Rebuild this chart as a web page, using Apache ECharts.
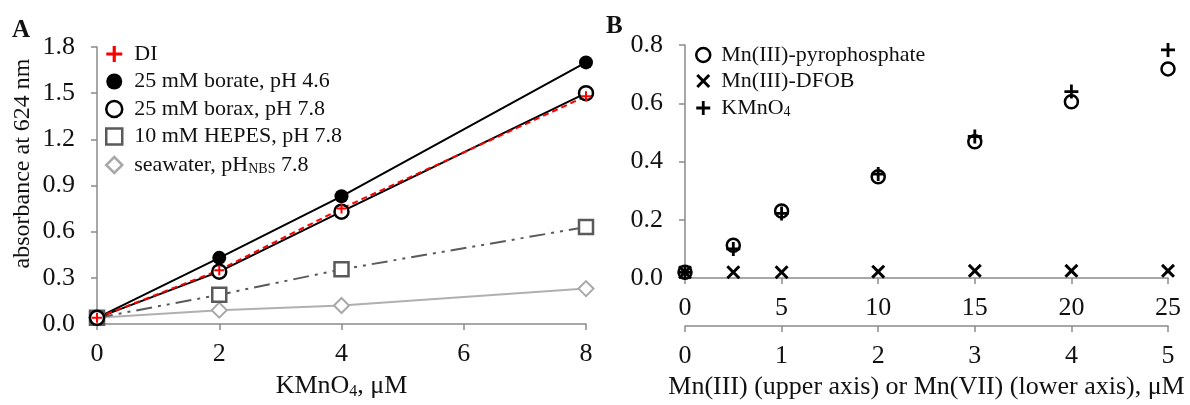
<!DOCTYPE html>
<html>
<head>
<meta charset="utf-8">
<script src="https://cdn.jsdelivr.net/npm/echarts@6/dist/echarts.min.js"></script>
<style>
  html, body { margin: 0; padding: 0; background: #fff; }
  #chart { width: 1190px; height: 405px; }
</style>
</head>
<body>
<div id="chart"></div>
<script>
// panel A: absorbance vs KMnO4
var concA = [0, 2, 4, 8]
var diVals = [0.04, 0.35, 0.75, 1.48]
var borateVals = [0.04, 0.43, 0.83, 1.70]
var boraxVals = [0.04, 0.34, 0.73, 1.50]
var hepesVals = [0.04, 0.19, 0.355, 0.63]
var seawaterVals = [0.04, 0.09, 0.12, 0.23]

// panel B
var mn3Conc = [0, 2.5, 5, 10, 15, 20, 25]
var pyroVals = [0.02, 0.113, 0.23, 0.348, 0.468, 0.605, 0.718]
var dfobVals = [0.02, 0.02, 0.02, 0.022, 0.025, 0.025, 0.025]
var mn7Conc = [0, 0.5, 1, 2, 3, 4, 5]
var kmno4Vals = [0.02, 0.10, 0.222, 0.357, 0.486, 0.64, 0.783]

var ticksA_y = ['0.0', '0.3', '0.6', '0.9', '1.2', '1.5', '1.8']
var ticksB_y = ['0.0', '0.2', '0.4', '0.6', '0.8']

function pairs(xs, ys) {
  return xs.map(function(x, i) { return [x, ys[i]] })
}

var plusPath = 'path://M4,0h2v4h4v2h-4v4h-2v-4h-4v-2h4z'
var crossPath = 'path://M0,1.5L1.5,0L5,3.5L8.5,0L10,1.5L6.5,5L10,8.5L8.5,10L5,6.5L1.5,10L0,8.5L3.5,5Z'
var font = 'Liberation Serif'
var axisGray = '#8a8a8a'

var axisCommon = {
  axisLine: { show: true, lineStyle: { color: axisGray, width: 1.5 } },
  axisTick: { show: true, length: 6, lineStyle: { color: axisGray, width: 1.5 } },
  splitLine: { show: false },
  axisLabel: { color: '#111', fontFamily: font, fontSize: 26 }
}

// legend text styles (rich so the subscripts work)
function legendRich(pad) {
  return {
    n: { fontSize: 22, fontFamily: font, color: '#111', lineHeight: 22, padding: [0, 0, 0, pad] },
    m: { fontSize: 22, fontFamily: font, color: '#111', lineHeight: 22 },
    sub: { fontSize: 14, fontFamily: font, color: '#111', lineHeight: 22, verticalAlign: 'bottom', padding: [9, 0, 0, 0] }
  }
}

var chart = echarts.init(document.getElementById('chart'))
var option = {
  animation: false,
  textStyle: { fontFamily: font },
  graphic: [
    { type: 'text', left: 12, top: 18, style: { text: 'A', font: 'bold 25px ' + font, fill: '#111' } },
    { type: 'text', left: 606, top: 14, style: { text: 'B', font: 'bold 25px ' + font, fill: '#111' } }
  ],
  grid: [
    { left: 97, right: 604, top: 47, bottom: 76, containLabel: false },
    { left: 685, right: 22, top: 45, bottom: 122, containLabel: false }
  ],
  legend: [
    {
      left: 100, top: 38, orient: 'vertical', itemGap: 5.5, itemWidth: 16, itemHeight: 16,
      textStyle: { fontFamily: font, fontSize: 22, color: '#111', rich: legendRich(7) },
      formatter: function(name) {
        if (name.indexOf('seawater') === 0) return '{n|seawater, pH}{sub|NBS}{m| 7.8}'
        return '{n|' + name + '}'
      },
      data: [
        { name: 'DI', icon: plusPath, itemStyle: { color: '#ff0000', borderWidth: 0 } },
        { name: '25 mM borate, pH 4.6', icon: 'circle', itemStyle: { color: '#000', borderWidth: 0 } },
        { name: '25 mM borax, pH 7.8', icon: 'circle', itemStyle: { color: '#fff', borderColor: '#000', borderWidth: 2.5 } },
        { name: '10 mM HEPES, pH 7.8', icon: 'rect', itemStyle: { color: '#fff', borderColor: '#5a5a5a', borderWidth: 2.5 } },
        { name: 'seawater, pH 7.8', icon: 'diamond', itemStyle: { color: '#fff', borderColor: '#a8a8a8', borderWidth: 2.5 } }
      ]
    },
    {
      left: 690, top: 39, orient: 'vertical', itemGap: 4, itemWidth: 14, itemHeight: 14,
      textStyle: { fontFamily: font, fontSize: 22, color: '#111', rich: legendRich(6) },
      formatter: function(name) {
        if (name === 'KMnO4') return '{n|KMnO}{sub|4}'
        return '{n|' + name + '}'
      },
      data: [
        { name: 'Mn(III)-pyrophosphate', icon: 'circle', itemStyle: { color: '#fff', borderColor: '#000', borderWidth: 2.5, opacity: 1 } },
        { name: 'Mn(III)-DFOB', icon: crossPath, itemStyle: { color: '#000', borderWidth: 0, opacity: 1 } },
        { name: 'KMnO4', icon: plusPath, itemStyle: { color: '#000', borderWidth: 0, opacity: 1 } }
      ]
    }
  ],
  xAxis: [
    Object.assign({}, axisCommon, {
      gridIndex: 0, type: 'value', min: 0, max: 8, interval: 2,
      axisLabel: Object.assign({}, axisCommon.axisLabel, { margin: 17 }),
      name: 'KMnO{sub|4}, μM', nameLocation: 'middle', nameGap: 48,
      nameTextStyle: { fontFamily: font, fontSize: 26, color: '#111',
        rich: { sub: { fontSize: 16, verticalAlign: 'bottom', padding: [12, 0, 0, 0], fontFamily: font, color: '#111' } } }
    }),
    Object.assign({}, axisCommon, {
      gridIndex: 1, type: 'value', min: 0, max: 25, interval: 5, position: 'bottom',
      axisLabel: Object.assign({}, axisCommon.axisLabel, { margin: 17 })
    }),
    Object.assign({}, axisCommon, {
      gridIndex: 1, type: 'value', min: 0, max: 5, interval: 1, position: 'bottom', offset: 48,
      axisLabel: Object.assign({}, axisCommon.axisLabel, { margin: 17 }),
      name: 'Mn(III) (upper axis) or Mn(VII) (lower axis), μM', nameLocation: 'middle', nameGap: 46,
      nameTextStyle: { fontFamily: font, fontSize: 26, color: '#111' }
    })
  ],
  yAxis: [
    Object.assign({}, axisCommon, {
      gridIndex: 0, type: 'value', min: 0, max: 1.8, interval: 0.3,
      axisLabel: Object.assign({}, axisCommon.axisLabel, { margin: 22,
        formatter: function(v) { return ticksA_y[Math.round(v / 0.3)] } }),
      name: 'absorbance at 624 nm', nameLocation: 'middle', nameGap: 62, nameRotate: 90,
      // the title sits a little above the middle of the axis
      nameTextStyle: { fontFamily: font, fontSize: 24, color: '#111', padding: [0, 0, 0, 44] }
    }),
    Object.assign({}, axisCommon, {
      gridIndex: 1, type: 'value', min: 0, max: 0.8, interval: 0.2,
      axisLabel: Object.assign({}, axisCommon.axisLabel, { margin: 22,
        formatter: function(v) { return ticksB_y[Math.round(v / 0.2)] } })
    })
  ],
  series: [
    {
      name: 'seawater, pH 7.8', type: 'line', xAxisIndex: 0, yAxisIndex: 0,
      data: pairs(concA, seawaterVals), symbol: 'diamond', symbolSize: 15,
      lineStyle: { color: '#b0b0b0', width: 2 },
      itemStyle: { color: '#fff', borderColor: '#a8a8a8', borderWidth: 2 }
    },
    {
      name: '10 mM HEPES, pH 7.8', type: 'line', xAxisIndex: 0, yAxisIndex: 0,
      data: pairs(concA, hepesVals), symbol: 'rect', symbolSize: 14,
      lineStyle: { color: '#5a5a5a', width: 2, type: [16, 6, 3, 6, 3, 6] },
      itemStyle: { color: '#fff', borderColor: '#5a5a5a', borderWidth: 2.5 }
    },
    {
      name: '25 mM borate, pH 4.6', type: 'line', xAxisIndex: 0, yAxisIndex: 0,
      data: pairs(concA, borateVals), symbol: 'circle', symbolSize: 14,
      lineStyle: { color: '#000', width: 2 },
      itemStyle: { color: '#000', borderWidth: 0 }
    },
    {
      name: '25 mM borax, pH 7.8', type: 'line', xAxisIndex: 0, yAxisIndex: 0,
      data: pairs(concA, boraxVals), symbol: 'circle', symbolSize: 14,
      lineStyle: { color: '#000', width: 2 },
      itemStyle: { color: '#fff', borderColor: '#000', borderWidth: 2.5 }
    },
    {
      name: 'DI', type: 'line', xAxisIndex: 0, yAxisIndex: 0,
      data: pairs(concA, diVals), symbol: plusPath, symbolSize: 10,
      lineStyle: { color: '#ff0000', width: 2, type: [6, 4] },
      itemStyle: { color: '#ff0000', borderWidth: 0 }
    },
    {
      name: 'Mn(III)-pyrophosphate', type: 'scatter', xAxisIndex: 1, yAxisIndex: 1,
      data: pairs(mn3Conc, pyroVals), symbol: 'circle', symbolSize: 13,
      itemStyle: { color: 'rgba(255,255,255,0)', borderColor: '#000', borderWidth: 2.5, opacity: 1 }
    },
    {
      name: 'Mn(III)-DFOB', type: 'scatter', xAxisIndex: 1, yAxisIndex: 1,
      data: pairs(mn3Conc, dfobVals), symbol: crossPath, symbolSize: 14,
      itemStyle: { color: '#000', opacity: 1 }
    },
    {
      name: 'KMnO4', type: 'scatter', xAxisIndex: 2, yAxisIndex: 1,
      data: pairs(mn7Conc, kmno4Vals), symbol: plusPath, symbolSize: 14,
      itemStyle: { color: '#000', opacity: 1 }
    }
  ]
}
chart.setOption(option)
</script>
</body>
</html>
